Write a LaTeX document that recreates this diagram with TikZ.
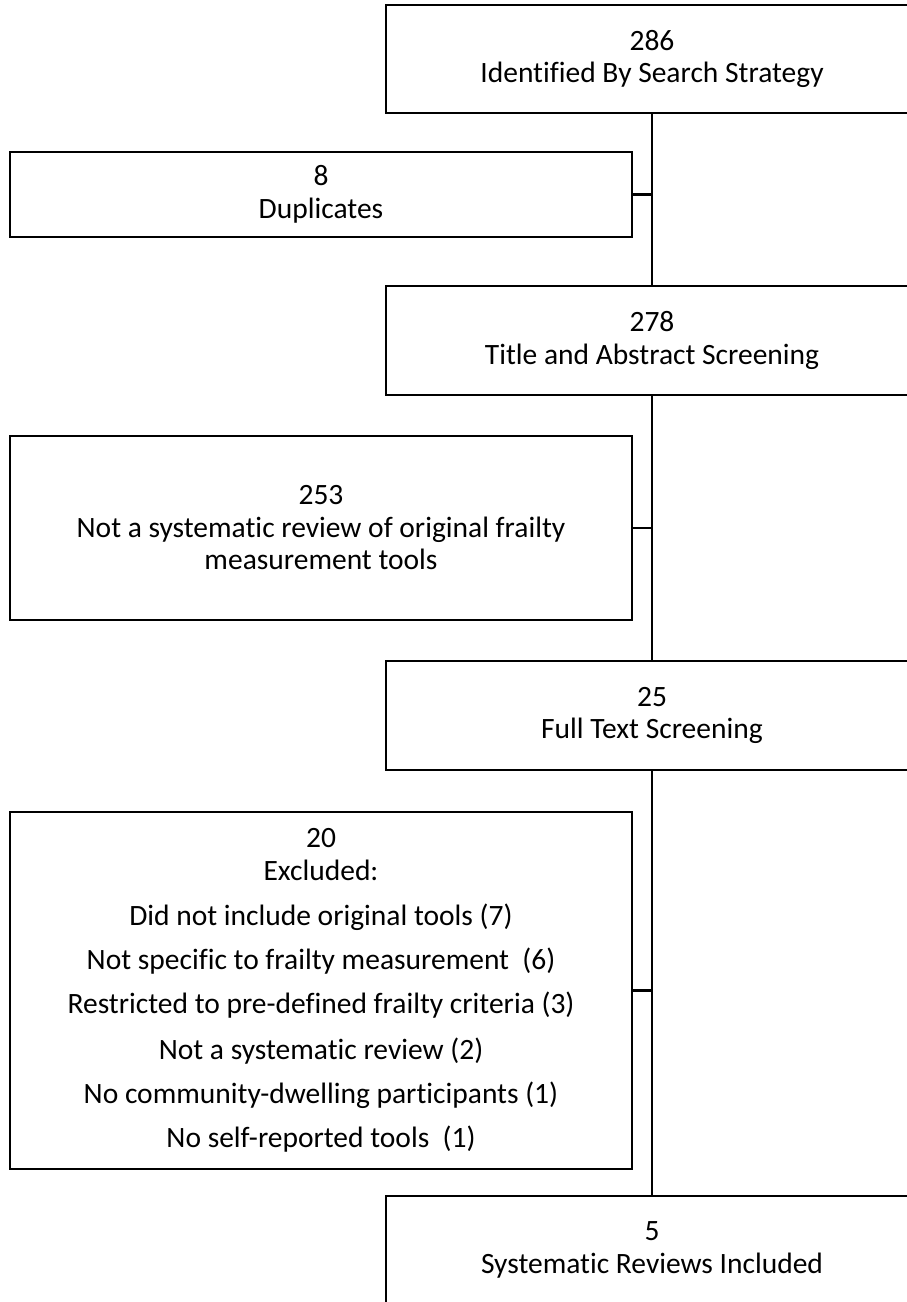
\documentclass[tikz,border=0pt]{standalone}
\usepackage{fontspec}
\setmainfont{Carlito}[Ligatures=NoCommon]
\begin{document}
\begin{tikzpicture}[x=1pt,y=-1pt,
  box/.style={draw, line width=2.2pt, rectangle, inner sep=0pt, align=center,
    font=\fontsize{29.5}{32.5}\selectfont},
  rightbox/.style={box, minimum width=532, minimum height=108},
  leftbox/.style={box, minimum width=622},
  conn/.style={line width=2.2pt}]
\clip (0,0) rectangle (907,1302);
\node[rightbox] (ident) at (652,59) {286\\Identified By Search Strategy};
\node[leftbox, minimum height=85] (dup) at (321,194.5) {8\\Duplicates};
\node[rightbox, minimum height=109] (title) at (652,340.5) {278\\Title and Abstract Screening};
\node[leftbox, minimum height=184] (notsr) at (321,528) {253\\Not a systematic review of original frailty\\measurement tools};
\node[rightbox, minimum height=109] (full) at (652,715.5) {25\\Full Text Screening};
\node[leftbox, minimum height=357] (excl) at (321,990.5) {20\\Excluded:\\[13pt]
  Did not include original tools (7)\\[11.5pt]
  Not specific to frailty measurement~ (6)\\[11.5pt]
  Restricted to pre-defined frailty criteria (3)\\[13pt]
  Not a systematic review (2)\\[11.5pt]
  No community-dwelling participants (1)\\[11.5pt]
  No self-reported tools~ (1)};
\node[rightbox] (incl) at (652,1250) {5\\Systematic Reviews Included};
\draw[conn] (ident.south) -- (title.north);
\draw[conn] (title.south) -- (full.north);
\draw[conn] (full.south) -- (incl.north);
\draw[conn] (dup.east) -- (dup.east -| ident.south);
\draw[conn] (notsr.east) -- (notsr.east -| title.south);
\draw[conn] (excl.east) -- (excl.east -| full.south);
\end{tikzpicture}
\end{document}
